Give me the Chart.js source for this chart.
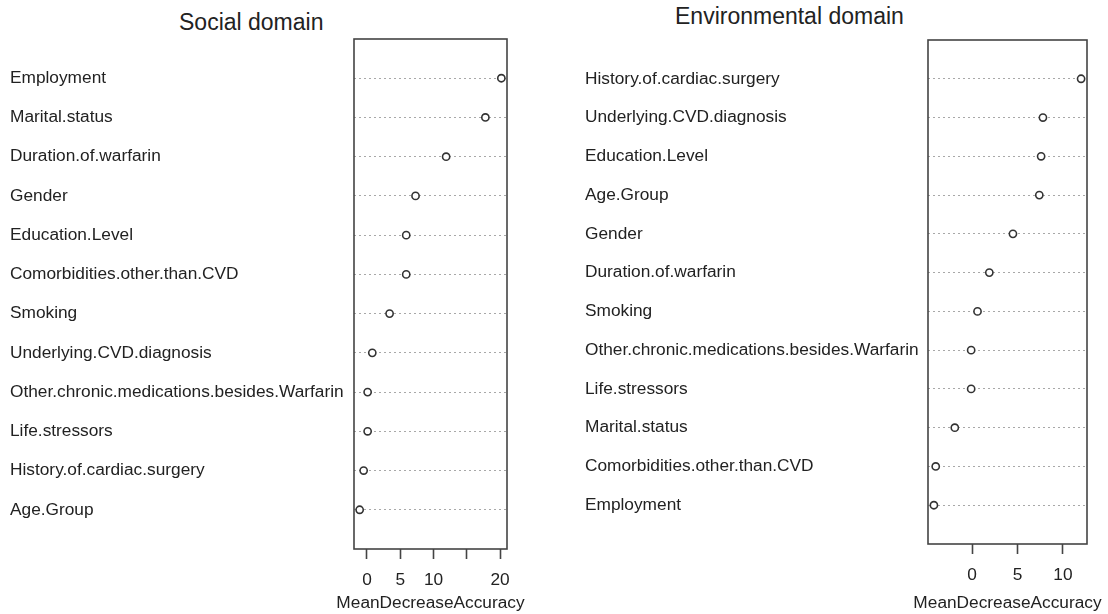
<!DOCTYPE html>
<html>
<head>
<meta charset="utf-8">
<script src="https://cdn.jsdelivr.net/npm/chart.js@4.4.0/dist/chart.umd.min.js"></script>
<style>
  body { margin: 0; background: #fff; }
  #wrap { position: relative; width: 1108px; height: 614px; overflow: hidden; }
  canvas { position: absolute; top: 0; }
  .ttl { position: absolute; font-family: "Liberation Sans", Arial, sans-serif; font-size: 23px; color: #222; white-space: nowrap; }
</style>
</head>
<body>
<div id="wrap">
  <div class="ttl" id="t1" style="left:179px; top:9px;">Social domain</div>
  <div class="ttl" id="t2" style="left:675px; top:3px;">Environmental domain</div>
  <canvas id="social" width="554" height="614" style="left:0"></canvas>
  <canvas id="env" width="554" height="614" style="left:554px"></canvas>
</div>
<script>
// social domain, top row first
var social_names = ["Employment", "Marital.status", "Duration.of.warfarin", "Gender", "Education.Level",
  "Comorbidities.other.than.CVD", "Smoking", "Underlying.CVD.diagnosis",
  "Other.chronic.medications.besides.Warfarin", "Life.stressors", "History.of.cardiac.surgery", "Age.Group"];
var social_values = [20.2, 17.8, 11.9, 7.3, 5.9, 5.9, 3.4, 0.8, 0.1, 0.1, -0.5, -1.1];
var social_ticks = [0, 5, 10, 15, 20];

// environmental domain
var env_names = ["History.of.cardiac.surgery", "Underlying.CVD.diagnosis", "Education.Level", "Age.Group",
  "Gender", "Duration.of.warfarin", "Smoking", "Other.chronic.medications.besides.Warfarin",
  "Life.stressors", "Marital.status", "Comorbidities.other.than.CVD", "Employment"];
var env_values = [12.0, 7.8, 7.6, 7.4, 4.5, 1.9, 0.6, -0.1, -0.1, -1.9, -4.0, -4.2];
var env_ticks = [0, 5, 10];

var x_title = 'MeanDecreaseAccuracy';

Chart.defaults.font.family = '"Liberation Sans", Arial, sans-serif';
Chart.defaults.color = '#222';

// box round the plot area + axis title that may run past it
var boxPlugin = {
    id: 'box',
    beforeDatasetsDraw: function (chart) {
        var a = chart.chartArea;
        var c = chart.ctx;
        c.save();
        c.strokeStyle = '#444';
        c.lineWidth = 1.6;
        c.strokeRect(a.left, a.top, a.right - a.left, a.bottom - a.top);
        c.restore();
    },
    afterDraw: function (chart) {
        var a = chart.chartArea;
        var c = chart.ctx;
        c.save();
        c.font = '17.3px "Liberation Sans", Arial, sans-serif';
        c.fillStyle = '#222';
        c.textAlign = 'center';
        c.textBaseline = 'middle';
        c.fillText(x_title, (a.left + a.right) / 2, 603);
        c.restore();
    }
};

function dot_chart(id, names, values, ticks, xmin, xmax, pad, yw, xh) {
    var ctx = document.getElementById(id);
    var pts = [];
    for (let i = 0; i < values.length; i++) {
        pts.push({ x: values[i], y: i + 1 });
    }
    return new Chart(ctx, {
        type: 'scatter',
        data: {
            datasets: [{
                data: pts,
                pointStyle: 'circle',
                pointRadius: 3.6,
                pointBorderWidth: 1.6,
                pointBorderColor: '#333',
                pointBackgroundColor: '#fff'
            }]
        },
        plugins: [boxPlugin],
        options: {
            responsive: false,
            animation: false,
            layout: { padding: pad },
            plugins: { legend: { display: false }, tooltip: { enabled: false } },
            scales: {
                y: {
                    type: 'linear',
                    reverse: true,
                    min: 0,
                    max: names.length + 1,
                    afterBuildTicks: function (s) {
                        s.ticks = names.map(function (n, i) { return { value: i + 1 }; });
                    },
                    afterFit: function (s) { s.width = yw; },
                    ticks: {
                        crossAlign: 'far',
                        autoSkip: false,
                        font: { size: 17.3 },
                        color: '#222',
                        callback: function (v) { return names[v - 1]; }
                    },
                    grid: { drawTicks: false, color: '#a8a8a8', lineWidth: 1 },
                    border: { display: false, dash: [2, 3] }
                },
                x: {
                    type: 'linear',
                    min: xmin,
                    max: xmax,
                    afterBuildTicks: function (s) {
                        s.ticks = ticks.map(function (v) { return { value: v }; });
                    },
                    afterFit: function (s) { s.height = xh; },
                    ticks: {
                        autoSkip: false,
                        maxRotation: 0,
                        padding: 11,
                        font: { size: 17.3 },
                        color: '#222',
                        callback: function (v) { return v === 15 ? '' : v; }
                    },
                    grid: { drawOnChartArea: false, drawTicks: true, tickLength: 10, tickColor: '#444', tickWidth: 1.6 },
                    border: { display: false }
                }
            }
        }
    });
}

dot_chart('social', social_names, social_values, social_ticks, -1.95, 21.05,
    { left: 10, right: 47, top: 39, bottom: 0 }, 344, 65);
dot_chart('env', env_names, env_values, env_ticks, -4.85, 12.65,
    { left: 31, right: 21, top: 40, bottom: 0 }, 343, 70);
</script>
</body>
</html>
